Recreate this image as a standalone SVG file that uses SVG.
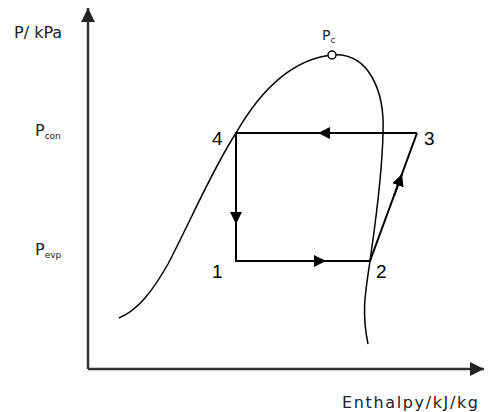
<svg xmlns="http://www.w3.org/2000/svg" width="493" height="412" viewBox="0 0 493 412">
<style>
.ln{fill:none;stroke:#000;stroke-width:2}
.cv{fill:none;stroke:#000;stroke-width:1.5}
.ax{fill:none;stroke:#333;stroke-width:2.5}
.t{font-family:"DejaVu Sans",sans-serif;fill:#222}
.n{font-family:"Liberation Sans",sans-serif;font-size:19px;fill:#000}
.s{font-size:9px}
</style>
<defs>
<marker id="ah" viewBox="0 0 10 10" refX="10" refY="5" markerWidth="12" markerHeight="12" markerUnits="userSpaceOnUse" orient="auto"><path d="M0,0L10,5L0,10z" fill="#000"/></marker>
<marker id="axh" viewBox="0 0 10 10" refX="10" refY="5" markerWidth="14" markerHeight="14" markerUnits="userSpaceOnUse" orient="auto"><path d="M0,0L10,5L0,10z" fill="#222"/></marker>
</defs>
<rect width="493" height="412" fill="#fff"/>
<g id="axes">
<path class="ax" d="M88,369V8" marker-end="url(#axh)"/>
<path class="ax" d="M88,369H484" marker-end="url(#axh)"/>
<text class="t" x="14" y="38" font-size="16">P/ kPa</text>
<text class="t" x="35" y="136" font-size="16">P<tspan class="s" dy="3">con</tspan></text>
<text class="t" x="35" y="255" font-size="16">P<tspan class="s" dy="3">evp</tspan></text>
<text class="t" x="342" y="408" font-size="16" textLength="136" lengthAdjust="spacing">Enthalpy/kJ/kg</text>
</g>
<g id="dome">
<path class="cv" d="M119,318C138,310 152,292 168,264C190,222 212,170 236,133C255,100 285,60 332,55C368,52 385,90 383,133C382,180 375,225 370,261C366,290 361,310 368,344"/>
<circle cx="332" cy="55" r="4" fill="#fff" stroke="#000" stroke-width="1.5"/>
<text class="t" x="322" y="40" font-size="14">P<tspan class="s" dy="3">c</tspan></text>
</g>
<g id="connectors">
<path class="ln" d="M417,133H236V261H370L417,133"/>
<path class="ln" d="M330,133H318" marker-end="url(#ah)"/>
<path class="ln" d="M236,210V224" marker-end="url(#ah)"/>
<path class="ln" d="M310,261H326" marker-end="url(#ah)"/>
<path class="ln" d="M394,196L402,174" marker-end="url(#ah)"/>
</g>
<g id="p1"><text class="n" x="212" y="278">1</text></g>
<g id="p2"><text class="n" x="376" y="278">2</text></g>
<g id="p3"><text class="n" x="424" y="145">3</text></g>
<g id="p4"><text class="n" x="212" y="145">4</text></g>
</svg>
